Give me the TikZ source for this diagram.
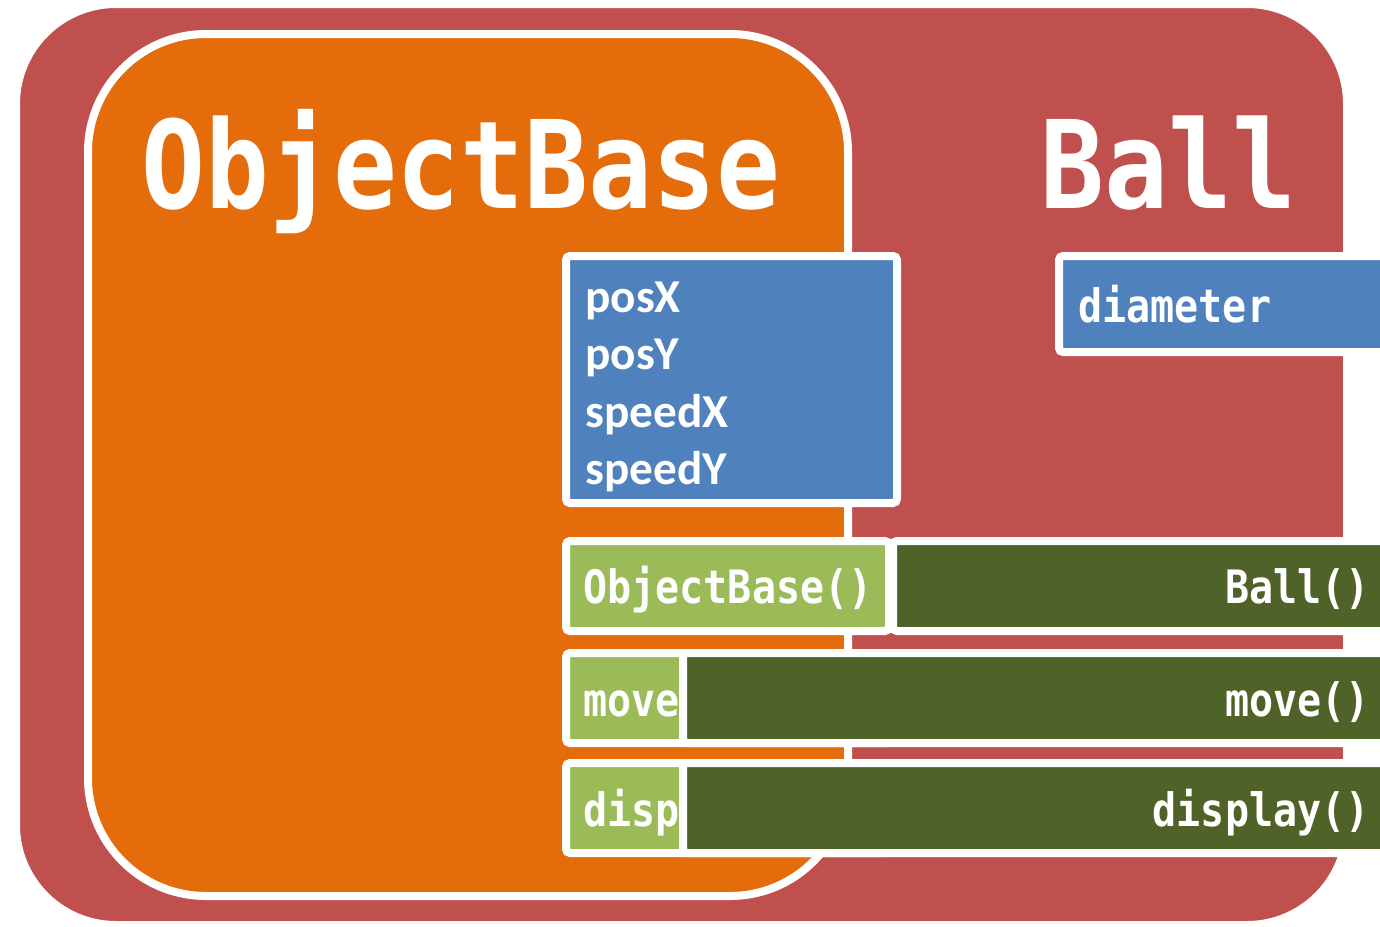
\documentclass[tikz,border=0pt]{standalone}
\usepackage{fontspec}
\usetikzlibrary{shadows}
\newfontfamily\codefont[FakeStretch=0.87]{DejaVu Sans Mono}
\newfontfamily\fieldfont{Carlito}
\definecolor{ballred}{HTML}{C0504D}
\definecolor{baseorange}{HTML}{E46C0A}
\definecolor{fieldblue}{HTML}{4F81BD}
\definecolor{baselime}{HTML}{9BBB59}
\definecolor{ballolive}{HTML}{4F6228}

\begin{document}
\begin{tikzpicture}[x=0.5pt,y=-0.5pt,
	panel/.style={draw=white, line width=4pt},
	boxed/.style={draw=white, line width=4pt, rounded corners=2pt,
		drop shadow={shadow xshift=1pt, shadow yshift=-1.5pt, opacity=0.35}},
	title/.style={text=white, inner sep=0pt, anchor=base west, font=\codefont\bfseries\fontsize{61}{61}\selectfont},
	code/.style={text=white, inner sep=0pt, font=\codefont\bfseries\fontsize{23}{23}\selectfont},
	field/.style={text=white, inner sep=0pt, anchor=base west, font=\fieldfont\bfseries\fontsize{23.6}{23.6}\selectfont}]
	\useasboundingbox (0,0) rectangle (1380,926);

	% class frames
	\draw[panel, fill=ballred, rounded corners=50pt,
		drop shadow={shadow xshift=-0.8pt, shadow yshift=-1pt, opacity=0.3}] (16,4) rectangle (1347,925);
	\draw[panel, fill=baseorange, rounded corners=59pt,
		drop shadow={shadow xshift=1pt, shadow yshift=-1.5pt, opacity=0.35}] (88,34) rectangle (848,896);
	\node[title] (basetitle) at (141,208) {ObjectBase};
	\node[title] (balltitle) at (1040,208) {Ball};

	% fields
	\draw[boxed, fill=fieldblue] (566,256) rectangle (897,503);
	\node[field] (posx) at (585,312) {posX};
	\node[field] (posy) at (585,369) {posY};
	\node[field] (speedx) at (585,427) {speedX};
	\node[field] (speedy) at (585,484) {speedY};

	\draw[boxed, fill=fieldblue] (1059,256) rectangle (1420,352);
	\node[code, anchor=base west] (diameter) at (1078,322) {diameter};

	% methods of ObjectBase
	\draw[boxed, fill=baselime] (566,541) rectangle (889,631);
	\draw[boxed, fill=baselime] (566,653) rectangle (889,743);
	\draw[boxed, fill=baselime] (566,763) rectangle (889,853);
	\node[code, anchor=base west] (basector) at (583,603) {ObjectBase()};
	\node[code, anchor=base west] (basemove) at (583,716) {move};
	\node[code, anchor=base west] (basedisp) at (583,826) {disp};

	% methods of Ball
	\draw[boxed, fill=ballolive] (893,541) rectangle (1420,631);
	\draw[boxed, fill=ballolive] (683,653) rectangle (1420,743);
	\draw[boxed, fill=ballolive] (683,763) rectangle (1420,853);
	\node[code, anchor=base east] (ballctor) at (1370,603) {Ball()};
	\node[code, anchor=base east] (ballmove) at (1370,716) {move()};
	\node[code, anchor=base east] (balldisp) at (1370,826) {display()};
\end{tikzpicture}
\end{document}
